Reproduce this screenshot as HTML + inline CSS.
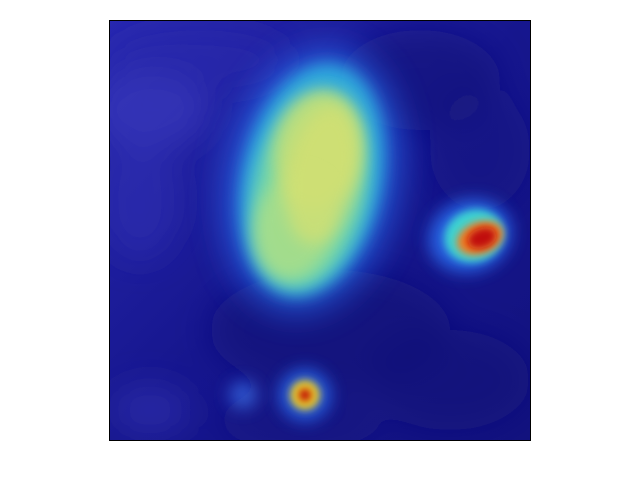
<!DOCTYPE html>
<html>
<head>
<meta charset="utf-8">
<style>
  html, body { margin: 0; padding: 0; background: #ffffff; }
  svg { display: block; }
</style>
</head>
<body>
<svg id="fig" width="640" height="480" viewBox="0 0 640 480" xmlns="http://www.w3.org/2000/svg">
  <defs>
    <clipPath id="clip"><rect x="109" y="20" width="422" height="421"/></clipPath>
    <filter id="blur8" x="-100%" y="-100%" width="300%" height="300%"><feGaussianBlur stdDeviation="8"/></filter>
    <filter id="blur14" x="-100%" y="-100%" width="300%" height="300%"><feGaussianBlur stdDeviation="16"/></filter>
    <filter id="blur4" x="-100%" y="-100%" width="300%" height="300%"><feGaussianBlur stdDeviation="4"/></filter>
    <linearGradient id="bgGrad" x1="0" y1="0" x2="1" y2="1">
      <stop offset="0" stop-color="#2828b0"/>
      <stop offset="0.5" stop-color="#16168e"/>
      <stop offset="1" stop-color="#12127e"/>
    </linearGradient>
  </defs>
  <g clip-path="url(#clip)">
    <rect x="109" y="20" width="422" height="421" fill="url(#bgGrad)"/>
    <g id="texture" filter="url(#blur14)"></g>
    <g id="blobs"></g>
  </g>
  <rect x="109.5" y="20.5" width="421" height="420" fill="none" stroke="#000" stroke-width="1"/>
</svg>
<script>
// Background texture patches
const texCx = [150, 140, 200, 420, 480, 330, 150, 450, 300];
const texCy = [110, 200, 60, 80, 150, 330, 410, 380, 420];
const texRx = [60, 40, 90, 80, 50, 120, 40, 80, 80];
const texRy = [40, 60, 30, 50, 60, 60, 25, 50, 30];
const texCol = ['#3c3cc0', '#3030b5', '#2c2cad', '#14147a', '#161682', '#141476', '#3232b0', '#131378', '#151580'];
const texOp = [0.6, 0.5, 0.5, 0.6, 0.5, 0.6, 0.6, 0.6, 0.5];

// Heat blobs: layered ellipses (outer to inner), with rotation angle
const blobCx = [312, 312, 310, 318, 295, 322, 470, 474, 480, 482, 305, 305, 305, 243];
const blobCy = [180, 180, 190, 150, 225, 175, 236, 236, 238, 238, 395, 395, 395, 395];
const blobRx = [88, 70, 56, 44, 40, 36, 42, 30, 24, 15, 26, 15, 6, 14];
const blobRy = [135, 118, 100, 60, 55, 70, 36, 26, 16, 10, 26, 15, 6, 14];
const blobRot = [12, 12, 12, 10, 15, 10, -20, -20, -20, -20, 0, 0, 0, 0];
const blobCol = ['#2a6ef0', '#30c0e0', '#80e0a0', '#d0e070', '#b8e080', '#d8e070', '#2a6ef0', '#40e0d0', '#f08020', '#c00808', '#2a6ef0', '#f0d020', '#c00000', '#3a70e8'];
const blobOp = [0.65, 0.8, 0.8, 0.75, 0.7, 0.7, 0.85, 0.9, 1, 1, 0.8, 0.95, 1, 0.7];
const blobBlur = ['blur14', 'blur8', 'blur8', 'blur8', 'blur8', 'blur8', 'blur8', 'blur4', 'blur4', 'blur4', 'blur8', 'blur4', 'blur4', 'blur8'];

const NS = 'http://www.w3.org/2000/svg';
const tex = document.getElementById('texture');
for (let i = 0; i < texCx.length; i++) {
  const e = document.createElementNS(NS, 'ellipse');
  e.setAttribute('cx', texCx[i]); e.setAttribute('cy', texCy[i]);
  e.setAttribute('rx', texRx[i]); e.setAttribute('ry', texRy[i]);
  e.setAttribute('fill', texCol[i]); e.setAttribute('opacity', texOp[i]);
  
  
  tex.appendChild(e);
}
const blobs = document.getElementById('blobs');
for (let i = 0; i < blobCx.length; i++) {
  const e = document.createElementNS(NS, 'ellipse');
  e.setAttribute('cx', blobCx[i]); e.setAttribute('cy', blobCy[i]);
  e.setAttribute('rx', blobRx[i]); e.setAttribute('ry', blobRy[i]);
  e.setAttribute('transform', 'rotate(' + blobRot[i] + ' ' + blobCx[i] + ' ' + blobCy[i] + ')');
  e.setAttribute('fill', blobCol[i]); e.setAttribute('opacity', blobOp[i]);
  e.setAttribute('filter', 'url(#' + blobBlur[i] + ')');
  
  
  blobs.appendChild(e);
}
</script>
</body>
</html>
